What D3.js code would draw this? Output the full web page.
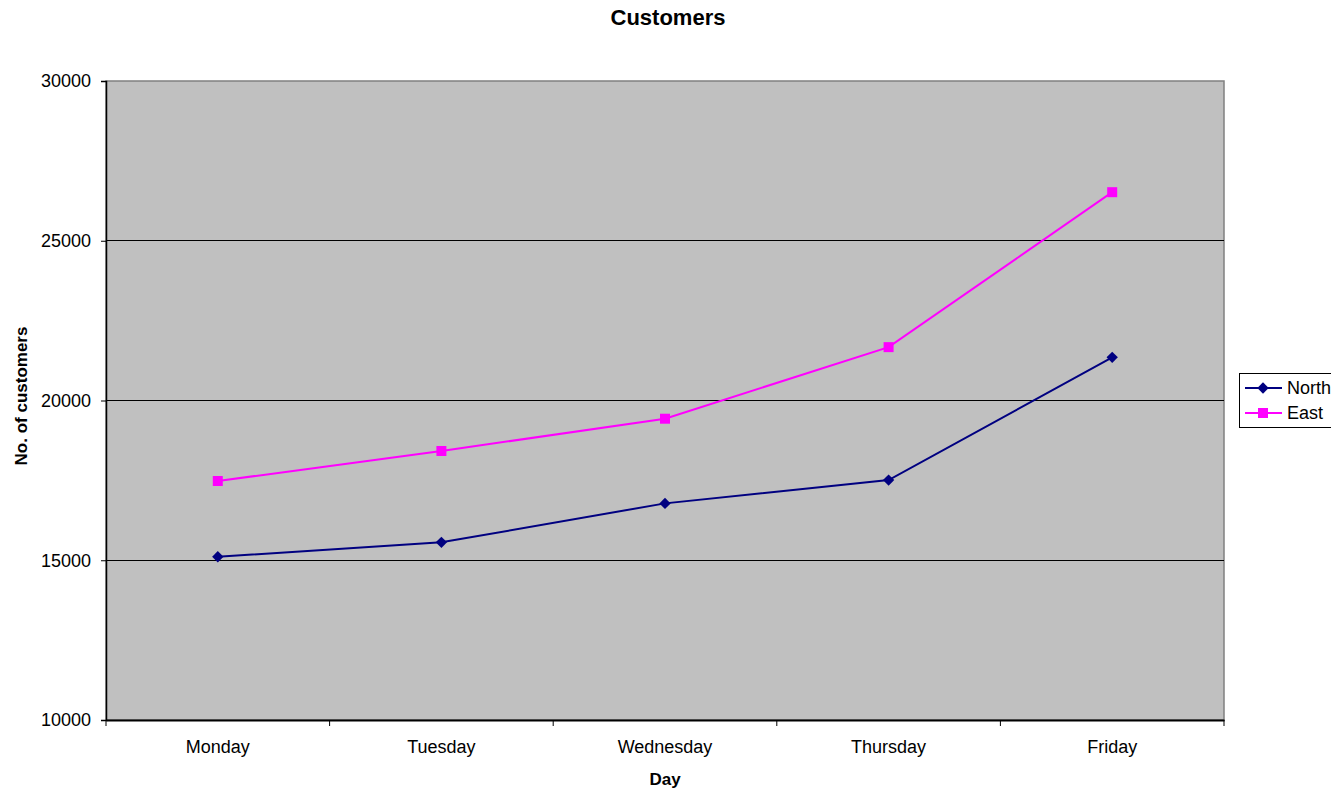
<!DOCTYPE html>
<html>
<head>
<meta charset="utf-8">
<script src="https://cdn.jsdelivr.net/npm/d3@7"></script>
<style>
  body { margin: 0; background: #fff; }
  text { font-family: "Liberation Sans", Arial, sans-serif; }
</style>
</head>
<body>
<div id="container"></div>
<script>
let days = ['Monday', 'Tuesday', 'Wednesday', 'Thursday', 'Friday']
let north = [15110, 15560, 16780, 17510, 21350]
let east = [17480, 18420, 19430, 21670, 26520]
let yTicks = [10000, 15000, 20000, 25000, 30000]

let width = 1331
let height = 791
let plot = {left: 106, right: 1224, top: 81, bottom: 720}

let svg = d3.select('#container').append('svg')
  .attr('width', width)
  .attr('height', height)

let xScale = d3.scaleBand()
  .domain(days)
  .range([plot.left, plot.right])

let yScale = d3.scaleLinear()
  .domain([10000, 30000])
  .range([plot.bottom, plot.top])

// plot area
svg.append('rect')
  .attr('x', plot.left)
  .attr('y', plot.top)
  .attr('width', plot.right - plot.left)
  .attr('height', plot.bottom - plot.top)
  .style('fill', '#c0c0c0')
  .style('stroke', '#808080')
  .style('stroke-width', 1.5)

// gridlines
svg.append('g')
  .selectAll('line')
  .data(yTicks.slice(1, -1))
  .enter()
  .append('line')
  .attr('x1', plot.left)
  .attr('x2', plot.right)
  .attr('y1', d => yScale(d))
  .attr('y2', d => yScale(d))
  .attr('shape-rendering', 'crispEdges')
  .style('stroke', '#000')
  .style('stroke-width', 1)

// axes
let yAxis = d3.axisLeft(yScale)
  .tickValues(yTicks)
  .tickSize(5)
  .tickPadding(10)
  .tickFormat(d3.format('d'))

let gy = svg.append('g')
  .attr('transform', `translate(${plot.left},0)`)
  .call(yAxis)
gy.select('.domain').style('stroke', '#000').style('stroke-width', 1.5)
gy.selectAll('text').style('font-size', '18px').style('fill', '#000')
  .style('font-family', '"Liberation Sans", Arial, sans-serif')

let xAxis = d3.axisBottom(xScale)
  .tickSize(0)
  .tickPadding(20)

let gx = svg.append('g')
  .attr('transform', `translate(0,${plot.bottom})`)
  .call(xAxis)
gx.select('.domain').style('stroke', '#000').style('stroke-width', 2)
gx.selectAll('text').style('font-size', '18px').style('fill', '#000')
  .style('font-family', '"Liberation Sans", Arial, sans-serif')

// tick marks between categories
svg.append('g')
  .selectAll('line')
  .data(days.map(d => xScale(d)).concat([plot.right]))
  .enter()
  .append('line')
  .attr('x1', d => d)
  .attr('x2', d => d)
  .attr('y1', plot.bottom)
  .attr('y2', plot.bottom + 6)
  .style('stroke', '#000')
  .style('stroke-width', 1)

let cx = d => xScale(d) + xScale.bandwidth() / 2

let series = [
  {name: 'North', values: north, color: '#000080', diamond: true},
  {name: 'East', values: east, color: '#ff00ff', diamond: false}
]

let square = d3.symbol().type(d3.symbolSquare).size(100)
let diamond = d3.symbol().type(d3.symbolSquare).size(64)

function markerTransform(s, x, y) {
  return `translate(${x},${y})` + (s.diamond ? ' rotate(45)' : '')
}

let line = d3.line()
  .x((d, i) => cx(days[i]))
  .y(d => yScale(d))

for (let s of series) {
  svg.append('path')
    .datum(s.values)
    .attr('d', line)
    .style('fill', 'none')
    .style('stroke', s.color)
    .style('stroke-width', 2)

  svg.append('g')
    .selectAll('path')
    .data(s.values)
    .enter()
    .append('path')
    .attr('transform', (d, i) => markerTransform(s, cx(days[i]), yScale(d)))
    .attr('d', s.diamond ? diamond : square)
    .style('fill', s.color)
}

// titles
svg.append('text')
  .attr('x', 668)
  .attr('y', 25)
  .attr('text-anchor', 'middle')
  .style('font-size', '22px')
  .style('font-weight', 'bold')
  .text('Customers')

svg.append('text')
  .attr('x', 665)
  .attr('y', 785)
  .attr('text-anchor', 'middle')
  .style('font-size', '17px')
  .style('font-weight', 'bold')
  .text('Day')

svg.append('text')
  .attr('transform', 'translate(27,396) rotate(-90)')
  .attr('text-anchor', 'middle')
  .style('font-size', '17px')
  .style('font-weight', 'bold')
  .text('No. of customers')

// legend
let legend = svg.append('g')
legend.append('rect')
  .attr('x', 1239.5)
  .attr('y', 373.5)
  .attr('width', 110)
  .attr('height', 54)
  .style('fill', '#fff')
  .style('stroke', '#000')
  .style('stroke-width', 1)

series.forEach((s, i) => {
  let y = 388 + i * 25
  legend.append('line')
    .attr('x1', 1245)
    .attr('x2', 1282)
    .attr('y1', y)
    .attr('y2', y)
    .style('stroke', s.color)
    .style('stroke-width', 2)
  legend.append('path')
    .attr('transform', markerTransform(s, 1263, y))
    .attr('d', s.diamond ? diamond : square)
    .style('fill', s.color)
  legend.append('text')
    .attr('x', 1287)
    .attr('y', y + 6)
    .style('font-size', '18px')
    .text(s.name)
})
</script>
</body>
</html>
